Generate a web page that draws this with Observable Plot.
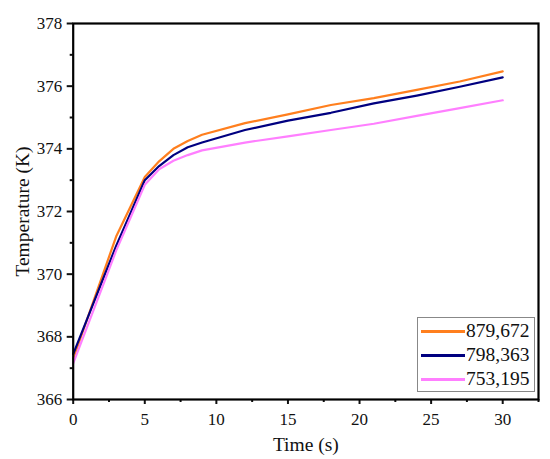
<!DOCTYPE html>
<html>
<head>
<meta charset="utf-8">
<script src="https://cdn.jsdelivr.net/npm/d3@7"></script>
<script src="https://cdn.jsdelivr.net/npm/@observablehq/plot@0.6"></script>
<style>
  html, body { margin: 0; padding: 0; background: #fff; }
  #wrap { position: relative; width: 550px; height: 459px; }
  #wrap, #wrap * , #wrap svg text { font-family: "Liberation Serif", "Times New Roman", "DejaVu Serif", serif !important; }
  #wrap g[aria-label="x-axis tick label"], #wrap g[aria-label="y-axis tick label"] { font-size: 17px; }
  #legend { position: absolute; left: 417px; top: 317px; width: 118px; height: 75px; border: 1px solid #888; background: #fff; box-sizing: border-box; padding: 1px 0 0 3px; }
  .row { display: flex; align-items: center; height: 24px; font-size: 19.5px; color: #111; }
  .sw { width: 44px; height: 3px; margin-right: 1px; }
</style>
</head>
<body>
<div id="wrap"></div>
<script>
const time = [0, 1, 2, 3, 4, 5, 6, 7, 8, 9, 12, 15, 18, 21, 24, 27, 30];
const s879 = [367.3, 368.6, 369.9, 371.2, 372.15, 373.1, 373.6, 374.0, 374.25, 374.45, 374.82, 375.1, 375.4, 375.62, 375.88, 376.15, 376.47];
const s798 = [367.45, 368.6, 369.75, 370.9, 371.95, 373.0, 373.45, 373.8, 374.05, 374.2, 374.6, 374.9, 375.15, 375.45, 375.7, 375.98, 376.28];
const s753 = [367.15, 368.35, 369.55, 370.75, 371.8, 372.85, 373.35, 373.62, 373.8, 373.95, 374.2, 374.4, 374.6, 374.8, 375.05, 375.3, 375.55];
const seriesNames = ["879,672", "798,363", "753,195"];
const seriesColors = ["#FF7F1E", "#000080", "#FF7FFF"];
const xTicks = [0, 5, 10, 15, 20, 25, 30];
const xMinor = [2.5, 7.5, 12.5, 17.5, 22.5, 27.5, 32.5];
const yTicks = [366, 368, 370, 372, 374, 376, 378];
const yMinor = [367, 369, 371, 373, 375, 377];

const allSeries = [s879, s798, s753];
const data = [];
allSeries.forEach((vals, k) => vals.forEach((v, i) => data.push({t: time[i], v, s: seriesNames[k]})));

const chart = Plot.plot({
  width: 550,
  height: 459,
  marginLeft: 72.7,
  marginRight: 12,
  marginTop: 23,
  marginBottom: 60,
  style: {"font-family": "Liberation Serif, serif", "font-size": "17px", color: "#111", background: "#fff"},
  x: {domain: [0, 32.5]},
  y: {domain: [366, 378]},
  color: {domain: seriesNames, range: seriesColors},
  marks: [
    Plot.line(data, {x: "t", y: "v", z: "s", stroke: "s", strokeWidth: 2.2}),
    Plot.axisX({ticks: xMinor, tickSize: 3, text: null, strokeWidth: 2, label: null}),
    Plot.axisX({ticks: xTicks, tickSize: 5, tickPadding: 8, strokeWidth: 2, fontSize: 17,
      label: "Time (s)", labelAnchor: "center", labelArrow: "none", labelOffset: 51}),
    Plot.axisY({ticks: yMinor, tickSize: 3, text: null, strokeWidth: 2, label: null}),
    Plot.axisY({ticks: yTicks, tickSize: 6, tickPadding: 5, strokeWidth: 2, fontSize: 17,
      label: "Temperature (K)", labelAnchor: "center", labelArrow: "none", labelOffset: 58}),
    Plot.frame({stroke: "#000", strokeWidth: 2.2})
  ]
});
chart.querySelectorAll('g[aria-label="x-axis label"] text, g[aria-label="y-axis label"] text').forEach(t => t.setAttribute("font-size", "19.5px"));
chart.querySelectorAll('g[aria-label="x-axis tick label"], g[aria-label="y-axis tick label"]').forEach(g => {
  g.setAttribute("font-size", "17");
  g.querySelectorAll("text").forEach(t => t.setAttribute("font-size", "17"));
});
document.getElementById("wrap").appendChild(chart);

const legend = document.createElement("div");
legend.id = "legend";
seriesNames.forEach((n, k) => {
  const row = document.createElement("div");
  row.className = "row";
  const sw = document.createElement("div");
  sw.className = "sw";
  sw.style.background = seriesColors[k];
  const label = document.createElement("span");
  label.textContent = n;
  row.appendChild(sw);
  row.appendChild(label);
  legend.appendChild(row);
});
document.getElementById("wrap").appendChild(legend);
</script>
</body>
</html>
